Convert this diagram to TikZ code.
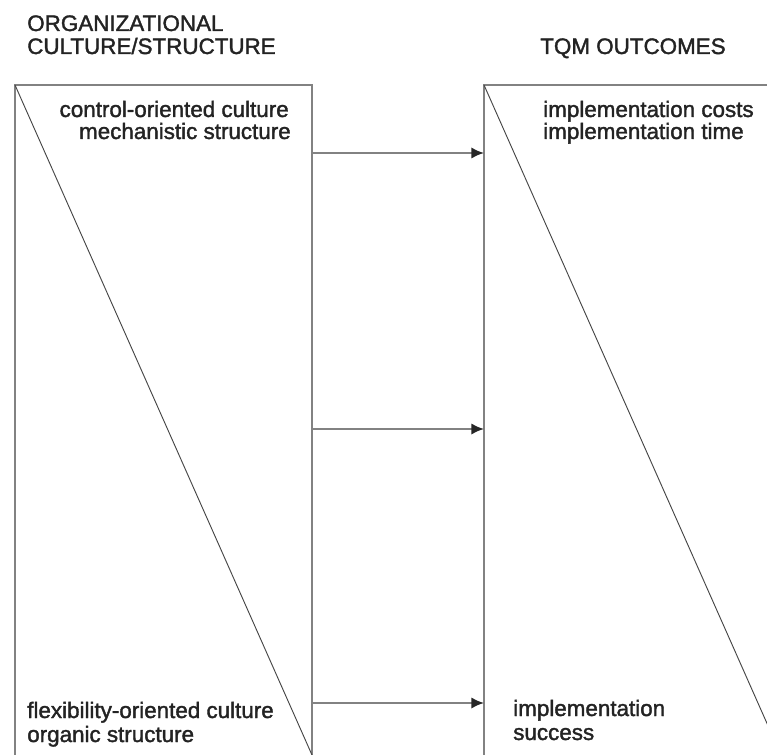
\documentclass[tikz,border=0pt]{standalone}
\usepackage{fontspec}
\setmainfont{Liberation Sans}
\newfontfamily\lblfont[FakeBold=1.6]{Liberation Sans}
\usetikzlibrary{arrows.meta}
\definecolor{boxgray}{RGB}{130,130,130}
\definecolor{diaggray}{RGB}{70,70,70}
\definecolor{txt}{RGB}{35,35,35}
\tikzset{
  boxline/.style={draw=boxgray, line width=1.4pt},
  diagline/.style={draw=diaggray, line width=0.7pt},
  conn/.style={draw=boxgray, line width=1.4pt, -{Latex[length=9.5pt,width=8.5pt,color=black!85]}},
  lbl/.style={inner sep=0pt, text=txt, font=\lblfont\fontsize{16.8pt}{16.8pt}\selectfont}
}
\begin{document}
\begin{tikzpicture}[x=0.75pt,y=-0.75pt]
\useasboundingbox (0,0) rectangle (767,755);
\clip (0,0) rectangle (767,755);
% titles
\node[lbl, anchor=base west] (t1) at (27,31) {ORGANIZATIONAL};
\node[lbl, anchor=base west] (t2) at (27,54) {CULTURE/STRUCTURE};
\node[lbl, anchor=base west] (t3) at (540,54) {TQM OUTCOMES};
% left box
\coordinate (LTL) at (15,85);
\coordinate (LTR) at (312,85);
\coordinate (LBL) at (15,760);
\coordinate (LBR) at (312,760);
\draw[boxline] (LBL) -- (LTL) -- (LTR) -- (LBR);
\draw[diagline] (LTL) -- (312,755);
% right box
\coordinate (RTL) at (484,85);
\coordinate (RTR) at (781,85);
\coordinate (RBL) at (484,760);
\coordinate (RBR) at (781,760);
\draw[boxline] (RBL) -- (RTL) -- (RTR) -- (RBR);
\draw[diagline] (RTL) -- (781,755);
% texts in boxes
\node[lbl, anchor=base east] (c1) at (289,117) {control-oriented culture};
\node[lbl, anchor=base east] (c2) at (291,139) {mechanistic structure};
\node[lbl, anchor=base west] (f1) at (27,718) {flexibility-oriented culture};
\node[lbl, anchor=base west] (f2) at (27,742) {organic structure};
\node[lbl, anchor=base west] (o1) at (543,117) {implementation costs};
\node[lbl, anchor=base west] (o2) at (543,139) {implementation time};
\node[lbl, anchor=base west] (s1) at (513,716) {implementation};
\node[lbl, anchor=base west] (s2) at (513,740) {success};
% connectors
\coordinate (a1s) at (312,153);
\coordinate (a1e) at (484,153);
\coordinate (a2s) at (312,429);
\coordinate (a2e) at (484,429);
\coordinate (a3s) at (312,703);
\coordinate (a3e) at (484,703);
\draw[conn] (a1s) -- (a1e);
\draw[conn] (a2s) -- (a2e);
\draw[conn] (a3s) -- (a3e);
\end{tikzpicture}
\end{document}
